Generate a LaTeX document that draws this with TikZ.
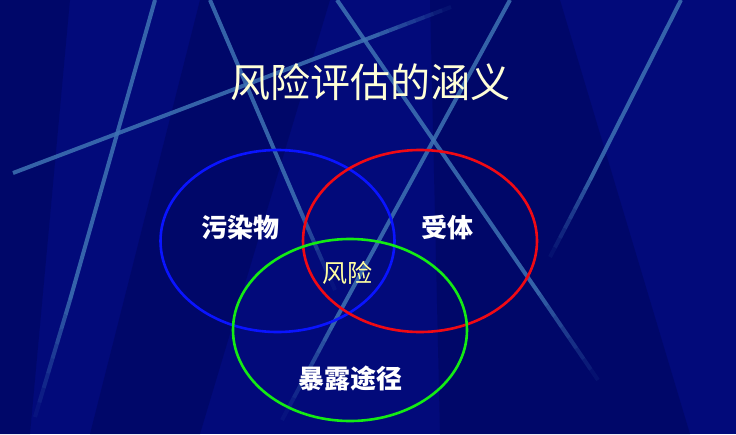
\documentclass[tikz,border=0pt]{standalone}
\usepackage{fontspec}
\newfontfamily\cjk{Noto Sans CJK SC}
\usetikzlibrary{shapes.geometric,calc}
\definecolor{slidebg}{RGB}{2,10,122}
\definecolor{bandbg}{RGB}{0,5,92}
\definecolor{streak}{RGB}{62,115,180}
\definecolor{titlecol}{RGB}{255,255,215}
\definecolor{riskcol}{RGB}{255,255,160}
\definecolor{setblue}{RGB}{10,20,255}
\definecolor{setred}{RGB}{240,10,20}
\definecolor{setgreen}{RGB}{20,235,20}
\begin{document}
\begin{tikzpicture}[x=1pt,y=-1pt,
    band/.style ={fill=bandbg, opacity=0.55},
    streakline/.style ={draw=streak, line width=4pt},
    setring/.style ={ellipse, draw, line width=2.6pt, inner sep=0pt, minimum width=234pt, minimum height=182pt},
    setlabel/.style ={font=\cjk\bfseries\fontsize{26}{26}\selectfont, text=white}]
   % background
   \fill[slidebg] (0,0) rectangle (736,434);
   \useasboundingbox (0,0) rectangle (736,434);
   \fill[band] (0,0) -- (70,0) -- (30,434) -- (0,434) -- cycle;
   \fill[band] (200,0) -- (330,0) -- (200,434) -- (90,434) -- cycle;
   \fill[band] (430,0) -- (560,0) -- (690,434) -- (440,434) -- cycle;
   % streaks: solid part, then a tail that fades out
   \foreach \xs/\ys/\xm/\ym/\xe/\ye in {13/173/380/34/451/7, 155/0/70/300/35/417,
       210/0/300/210/335/290, 510/0/330/330/282/420, 337/0/540/295/598/380, 681/0/590/180/550/257}{
     \draw[streakline, opacity=0.85] (\xs,\ys) -- (\xm,\ym);
     \foreach \k in {1,...,8}{
       \pgfmathsetmacro\op{0.85*(1-\k/9)}
       \draw[streakline, opacity=\op] ($(\xm,\ym)!{(\k-1)/8}!(\xe,\ye)$) -- ($(\xm,\ym)!{\k/8}!(\xe,\ye)$);
     }
   }
   % title
   \node[font=\cjk\fontsize{40}{40}\selectfont, text=titlecol] (title) at (370,82) {风险评估的涵义};
   % sets
   \node[setring, draw=setblue]  (pollutant) at (277.5,241) {};
   \node[setring, draw=setred]   (receptor)  at (420,241) {};
   \node[setring, draw=setgreen] (pathway)   at (350,330) {};
   \node[setlabel] (pollutantlabel) at (240,228) {污染物};
   \node[setlabel] (receptorlabel)  at (447,228) {受体};
   \node[setlabel] (pathwaylabel)   at (350,378) {暴露途径};
   \node[font=\cjk\fontsize{25}{25}\selectfont, text=riskcol] (risk) at (347,273) {风险};
 \end{tikzpicture}
\end{document}
